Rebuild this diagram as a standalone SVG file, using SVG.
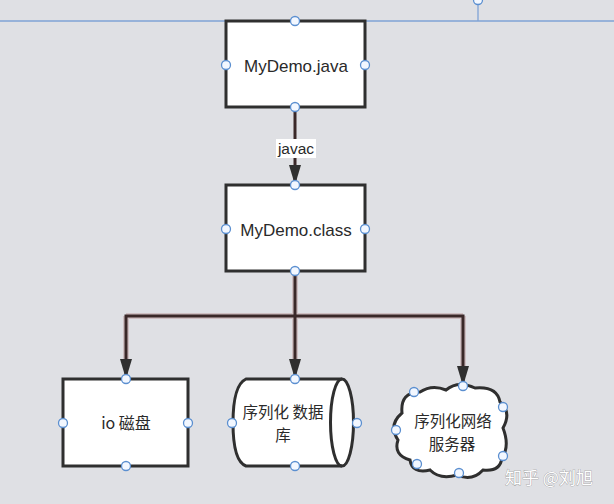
<svg xmlns="http://www.w3.org/2000/svg" width="614" height="504" viewBox="0 0 614 504">
<defs>
<style>
.shape{fill:#fff;stroke:#2f2f2f;stroke-width:3}
.lbl{font-family:"Liberation Sans","Noto Sans CJK SC",sans-serif;font-size:17px;fill:#2a2a2a;text-anchor:middle}
.cn{font-family:"Noto Sans CJK SC","Liberation Sans",sans-serif;font-size:16px;fill:#2a2a2a;text-anchor:middle}
.h{fill:#f2f7ff;stroke:#5b8fd0;stroke-width:1.3}
.wire{fill:none;stroke:#3a2828;stroke-width:3}
.glow{fill:none;stroke:#9a5a5a;stroke-width:6;opacity:0.25}
.guide{stroke:#7fa3d6;stroke-width:1.3;fill:none}
</style>
<marker id="arrd" viewBox="0 0 12 20" refX="6" refY="20" markerWidth="12" markerHeight="20" markerUnits="userSpaceOnUse" orient="0">
<path d="M0,0 L12,0 L6,20 Z" fill="#2f2f2f"/>
</marker>
</defs>
<rect x="0" y="0" width="614" height="504" fill="#dfe0e4"/>
<g id="guides">
<line class="guide" x1="0" y1="21" x2="614" y2="21"/>
<line class="guide" x1="478" y1="0" x2="478" y2="21"/>
<circle class="h" cx="478" cy="0" r="4.5"/>
</g>
<g id="connectors">
<path class="glow" d="M295,271 V316 M126,316 H463 M126,316 V360 M463,316 V366 M295,316 V360"/>
<path class="wire" d="M295,107 V185" marker-end="url(#arrd)"/>
<path class="wire" d="M295,271 V379" marker-end="url(#arrd)"/>
<path class="wire" d="M295,316 H126 V379" marker-end="url(#arrd)"/>
<path class="wire" d="M295,316 H463 V386" marker-end="url(#arrd)"/>
<rect x="276" y="139" width="40" height="19" fill="#fff"/>
<text class="lbl" x="296" y="154" style="font-size:15.5px">javac</text>
</g>
<g id="node-java">
<rect class="shape" x="226" y="21" width="139" height="86"/>
<text class="lbl" x="296" y="72">MyDemo.java</text>
<circle class="h" cx="295" cy="21" r="4.5"/>
<circle class="h" cx="226" cy="65" r="4.5"/>
<circle class="h" cx="365" cy="65" r="4.5"/>
<circle class="h" cx="295" cy="107" r="4.5"/>
</g>
<g id="node-class">
<rect class="shape" x="226" y="185" width="139" height="86"/>
<text class="lbl" x="296" y="236">MyDemo.class</text>
<circle class="h" cx="295" cy="185" r="4.5"/>
<circle class="h" cx="226" cy="229" r="4.5"/>
<circle class="h" cx="365" cy="229" r="4.5"/>
<circle class="h" cx="295" cy="271" r="4.5"/>
</g>
<g id="node-io">
<rect class="shape" x="63" y="379" width="125" height="87"/>
<text class="cn" x="126" y="429">io 磁盘</text>
<circle class="h" cx="126" cy="379" r="4.5"/>
<circle class="h" cx="63" cy="423" r="4.5"/>
<circle class="h" cx="188" cy="423" r="4.5"/>
<circle class="h" cx="126" cy="466" r="4.5"/>
</g>
<g id="node-db">
<path class="shape" d="M342,379 H246 Q233,385 233,423 Q233,461 246,466 H342 A11.5,43.5 0 0 0 342,379 Z"/>
<path class="shape" style="fill:none" d="M342,379 A11.5,43.5 0 0 0 342,466"/>
<text class="cn" x="283" y="418" style="font-size:15.5px">序列化 数据</text>
<text class="cn" x="283" y="441" style="font-size:15.5px">库</text>
<circle class="h" cx="295" cy="379" r="4.5"/>
<circle class="h" cx="232" cy="423" r="4.5"/>
<circle class="h" cx="357" cy="423" r="4.5"/>
<circle class="h" cx="295" cy="466" r="4.5"/>
</g>
<g id="node-cloud">
<path class="shape" d="M402,413 Q400,392 420,392 Q432,384 446,390 Q458,380 475,388 Q497,386 500,402 Q512,412 503,428 Q510,446 502,458 Q500,472 483,470 Q472,482 457,475 Q440,480 430,470 Q412,474 410,460 Q393,455 398,440 Q388,425 402,413 Z"/>
<text class="cn" x="453" y="427" style="font-size:15.5px">序列化网络</text>
<text class="cn" x="452" y="450" style="font-size:15.5px">服务器</text>
<circle class="h" cx="463" cy="386" r="4.5"/>
<circle class="h" cx="414" cy="392" r="4.5"/>
<circle class="h" cx="503" cy="407" r="4.5"/>
<circle class="h" cx="396" cy="430" r="4.5"/>
<circle class="h" cx="503" cy="456" r="4.5"/>
<circle class="h" cx="417" cy="464" r="4.5"/>
<circle class="h" cx="459" cy="473" r="4.5"/>
</g>
<g id="watermark">
<text x="549" y="484" style="font-family:'Noto Sans CJK SC','Liberation Sans',sans-serif;font-size:17px;text-anchor:middle;fill:#fff;stroke:#8a8a8a;stroke-width:0.6;paint-order:stroke">知乎 @刘旭</text>
</g>
</svg>
